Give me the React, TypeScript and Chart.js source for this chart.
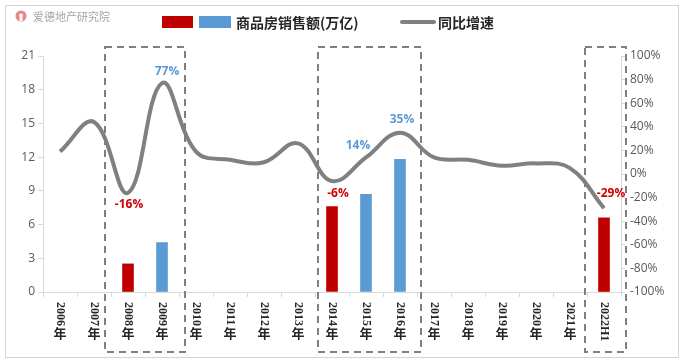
import React, { useEffect, useRef } from 'react';
import { Chart, registerables } from 'chart.js';

Chart.register(...registerables);

const categories = ['2006年', '2007年', '2008年', '2009年', '2010年', '2011年', '2012年', '2013年', '2014年', '2015年', '2016年', '2017年', '2018年', '2019年', '2020年', '2021年', '2022H1'];
const salesValues: (number | null)[] = [null, null, 2.5, 4.4, null, null, null, null, 7.6, 8.7, 11.8, null, null, null, null, null, 6.6];
const growthValues = [19, 44, -16, 77, 19, 12, 10, 26, -6, 14, 35, 14, 12, 7, 9, 5, -29];
const labeledIndices = [2, 3, 8, 9, 10, 16];
const highlightGroups = [[2, 3], [8, 10], [16, 16]];
const leftTickMax = 21;
const leftTickStep = 3;
const rightTickMin = -100;
const rightTickMax = 100;
const rightTickStep = 20;
const legendSalesLabel = '商品房销售额(万亿)';
const legendGrowthLabel = '同比增速';
const watermark = '爱德地产研究院';

const RED = '#C00000';
const BLUE = '#5B9BD5';
const LINE_GRAY = '#808080';
const TEXT_GRAY = '#595959';
const AXIS_GRAY = '#D9D9D9';

const barColors = growthValues.map((g) => (g < 0 ? RED : BLUE));

// positional offsets for the value labels (pixels relative to the point)
const labelOffsets: Record<number, [number, number]> = {
  2: [1, 12],
  3: [5, -12],
  8: [6, 12],
  9: [-8, -12],
  10: [2, -13],
  16: [7, -15],
};
// padding of the dashed boxes in category widths [left, right]
const boxPads: [number, number][] = [[0.68, 0.68], [0.42, 0.62], [0.56, 0.66]];

const overlayPlugin = {
  id: 'overlay',
  beforeDraw(chart: any) {
    const ctx = chart.ctx;
    ctx.save();
    ctx.fillStyle = '#ffffff';
    ctx.fillRect(0, 0, chart.width, chart.height);
    ctx.strokeStyle = '#D4D4D4';
    ctx.lineWidth = 1;
    ctx.strokeRect(5.5, 5.5, 673, 352);

    // watermark logo
    ctx.fillStyle = '#E98585';
    ctx.beginPath();
    ctx.arc(21, 16, 5.5, 0, Math.PI * 2);
    ctx.fill();
    ctx.fillStyle = '#ffffff';
    ctx.beginPath();
    ctx.arc(21, 15.5, 2, 0, Math.PI * 2);
    ctx.fill();
    ctx.fillRect(19.5, 17, 3, 4);
    ctx.fillStyle = '#A6A6A6';
    ctx.font = '11px "Noto Sans CJK SC"';
    ctx.textBaseline = 'middle';
    ctx.textAlign = 'left';
    ctx.fillText(watermark, 33, 16.5);

    // legend
    ctx.fillStyle = RED;
    ctx.fillRect(162, 16, 31, 12);
    ctx.fillStyle = BLUE;
    ctx.fillRect(199, 16, 32, 12);
    ctx.fillStyle = '#262626';
    ctx.font = 'bold 14px "Noto Sans CJK SC"';
    ctx.fillText(legendSalesLabel, 236, 22.5);
    ctx.strokeStyle = LINE_GRAY;
    ctx.lineWidth = 4;
    ctx.lineCap = 'round';
    ctx.beginPath();
    ctx.moveTo(402, 22);
    ctx.lineTo(434, 22);
    ctx.stroke();
    ctx.fillText(legendGrowthLabel, 438, 22.5);
    ctx.restore();
  },
  afterDraw(chart: any) {
    const ctx = chart.ctx;
    const xs = chart.scales.x;
    const yr = chart.scales.y1;
    const cw = xs.getPixelForValue(1) - xs.getPixelForValue(0);
    ctx.save();

    // x labels (vertical text: latin rotated, CJK upright)
    categories.forEach((c, i) => {
      const cx = xs.getPixelForValue(i);
      const hasNian = c.endsWith('年');
      const rot = hasNian ? c.slice(0, -1) : c;
      ctx.save();
      ctx.fillStyle = '#262626';
      ctx.font = 'bold 12px "Liberation Serif"';
      const w = ctx.measureText(rot).width;
      ctx.translate(cx, 302);
      ctx.rotate(Math.PI / 2);
      ctx.textAlign = 'left';
      ctx.textBaseline = 'middle';
      ctx.fillText(rot, 0, 0);
      ctx.restore();
      if (hasNian) {
        ctx.fillStyle = '#262626';
        ctx.font = 'bold 13px "Noto Sans CJK SC"';
        ctx.textAlign = 'center';
        ctx.textBaseline = 'top';
        ctx.fillText('年', cx, 302 + w + 1);
      }
    });

    // value labels
    ctx.font = 'bold 12px "Open Sans"';
    ctx.textAlign = 'center';
    ctx.textBaseline = 'middle';
    labeledIndices.forEach((i) => {
      const v = growthValues[i];
      const px = xs.getPixelForValue(i);
      const py = yr.getPixelForValue(v);
      const off = labelOffsets[i] || [0, -12];
      ctx.fillStyle = v < 0 ? '#D00000' : BLUE;
      ctx.fillText(`${v}%`, px + off[0], py + off[1]);
    });

    // dashed highlight boxes
    ctx.strokeStyle = '#7F7F7F';
    ctx.lineWidth = 2;
    ctx.setLineDash([7, 5]);
    highlightGroups.forEach(([a, b], k) => {
      const pad = boxPads[k] || [0.6, 0.6];
      const left = Math.round(xs.getPixelForValue(a) - cw * pad[0]);
      const right = Math.round(xs.getPixelForValue(b) + cw * pad[1]);
      ctx.strokeRect(left, 47, right - left, 305);
    });
    ctx.restore();
  },
};

export default function App() {
  const ref = useRef<HTMLCanvasElement | null>(null);
  useEffect(() => {
    if (!ref.current) return;
    const chart = new Chart(ref.current, {
      data: {
        labels: categories,
        datasets: [
          {
            type: 'line',
            label: legendGrowthLabel,
            data: growthValues,
            yAxisID: 'y1',
            borderColor: LINE_GRAY,
            borderWidth: 4,
            pointRadius: 0,
            tension: 0.4,
            order: 0,
          } as any,
          {
            type: 'bar',
            label: legendSalesLabel,
            data: salesValues,
            yAxisID: 'y',
            backgroundColor: barColors,
            barThickness: 11,
            order: 1,
          } as any,
        ],
      },
      options: {
        responsive: false,
        animation: false,
        layout: { padding: { top: 56, left: 0, right: 0, bottom: 0 } },
        plugins: { legend: { display: false }, tooltip: { enabled: false } },
        scales: {
          x: {
            type: 'category',
            offset: true,
            grid: { display: true, drawOnChartArea: false, tickLength: 5, color: AXIS_GRAY },
            border: { color: AXIS_GRAY },
            ticks: { display: false },
            afterFit: (s: any) => { s.height = 72; },
          },
          y: {
            position: 'left',
            min: 0,
            max: leftTickMax,
            ticks: { stepSize: leftTickStep, color: TEXT_GRAY, font: { family: 'Open Sans', size: 12 }, padding: 3 },
            grid: { drawOnChartArea: false, tickLength: 5, color: AXIS_GRAY },
            border: { color: AXIS_GRAY },
            afterFit: (s: any) => { s.width = 43; },
          },
          y1: {
            position: 'right',
            min: rightTickMin,
            max: rightTickMax,
            ticks: {
              stepSize: rightTickStep,
              color: TEXT_GRAY,
              font: { family: 'Open Sans', size: 12 },
              padding: 5,
              callback: (v: any) => `${v}%`,
            },
            grid: { drawOnChartArea: false, tickLength: 4, color: AXIS_GRAY },
            border: { color: AXIS_GRAY },
            afterFit: (s: any) => { s.width = 68; },
          },
        },
      } as any,
      plugins: [overlayPlugin],
    });
    const fonts = (document as any).fonts;
    if (fonts && fonts.load) {
      Promise.all([
        fonts.load('bold 12px "Liberation Serif"'),
        fonts.load('bold 13px "Noto Sans CJK SC"', '年'),
        fonts.load('bold 12px "Open Sans"'),
        fonts.load('12px "Open Sans"'),
      ]).then(() => { try { chart.update('none'); } catch (e) { /* ignore */ } }).catch(() => {});
    }
    return () => chart.destroy();
  }, []);
  return (
    <div style={{ position: 'absolute', left: 0, top: 0, width: 689, height: 364 }}>
      <canvas ref={ref} width={689} height={364} />
    </div>
  );
}
